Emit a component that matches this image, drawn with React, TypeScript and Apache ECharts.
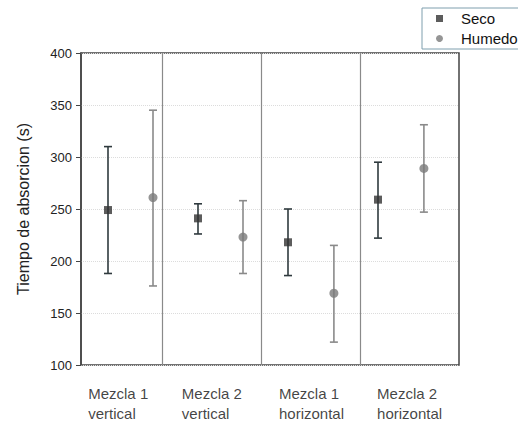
import React, { useEffect, useRef } from "react";
import * as echarts from "echarts";

const groupLabels = ["Mezcla 1\nvertical", "Mezcla 2\nvertical", "Mezcla 1\nhorizontal", "Mezcla 2\nhorizontal"];
const labelX = [0.08, 1.12, 2.2, 3.29];
const secoX = [0.3, 1.3, 2.3, 3.3];
const humedoX = [0.8, 1.8, 2.81, 3.81];
const dividerX = [0.9, 2.0, 3.1];
const secoMean = [249, 241, 218, 259];
const secoLow = [188, 226, 186, 222];
const secoHigh = [310, 255, 250, 295];
const humedoMean = [261, 223, 169, 289];
const humedoLow = [176, 188, 122, 247];
const humedoHigh = [345, 258, 215, 331];
const yTicks = { min: 100, max: 400, interval: 50 };

function errorRender(color: string, cap: number) {
  return (params: any, api: any) => {
    const x = api.value(0);
    const lo = api.coord([x, api.value(1)]);
    const hi = api.coord([x, api.value(2)]);
    const style = { stroke: color, lineWidth: 1.6 };
    return {
      type: "group",
      children: [
        { type: "line", shape: { x1: lo[0], y1: lo[1], x2: hi[0], y2: hi[1] }, style },
        { type: "line", shape: { x1: lo[0] - cap, y1: lo[1], x2: lo[0] + cap, y2: lo[1] }, style },
        { type: "line", shape: { x1: hi[0] - cap, y1: hi[1], x2: hi[0] + cap, y2: hi[1] }, style },
      ],
    };
  };
}

export default function App() {
  const ref = useRef<HTMLDivElement>(null);
  useEffect(() => {
    const chart = echarts.init(ref.current!, null, { renderer: "svg" });
    const font = "'Liberation Sans', Arial, sans-serif";
    chart.setOption({
      animation: false,
      textStyle: { fontFamily: font },
      grid: { left: 81, top: 53, width: 378, height: 312, show: true, borderColor: "#444", borderWidth: 1.5, backgroundColor: "#fff" },
      legend: {
        data: [
          { name: "Seco", icon: "rect" },
          { name: "Humedo", icon: "circle" },
        ],
        orient: "vertical",
        left: 422,
        top: 8,
        padding: [3, 80, 3, 14],
        itemGap: 5,
        itemWidth: 7,
        itemHeight: 7,
        borderColor: "#7f9fae",
        borderWidth: 1,
        backgroundColor: "#fff",
        textStyle: { fontSize: 15, color: "#111", fontFamily: font, padding: [0, 0, 0, 13] },
      },
      xAxis: {
        type: "value",
        min: 0,
        max: 4.2,
        axisLine: { show: false },
        axisTick: { show: false },
        axisLabel: { show: false },
        splitLine: { show: false },
      },
      yAxis: {
        type: "value",
        min: yTicks.min,
        max: yTicks.max,
        interval: yTicks.interval,
        name: "Tiempo de absorcion (s)",
        nameLocation: "middle",
        nameGap: 50,
        nameTextStyle: { fontSize: 16, color: "#222", fontFamily: font },
        axisLine: { show: true, lineStyle: { color: "#444", width: 1.5 } },
        axisTick: { show: true, length: 5, lineStyle: { color: "#444" } },
        axisLabel: { fontSize: 13, color: "#222", margin: 9, fontFamily: font },
        splitLine: { show: true, lineStyle: { color: "#dcdcdc", type: "dotted", width: 1 } },
      },
      series: [
        {
          name: "dividers",
          type: "scatter",
          data: [],
          silent: true,
          markLine: {
            silent: true,
            symbol: "none",
            label: { show: false },
            lineStyle: { color: "#8a8a8a", type: "solid", width: 1.2 },
            data: dividerX.map((x) => ({ xAxis: x })),
          },
        },
        {
          name: "Seco err",
          type: "custom",
          renderItem: errorRender("#2f3a3e", 4),
          data: secoX.map((x, i) => [x, secoLow[i], secoHigh[i]]),
          silent: true,
          z: 3,
        },
        {
          name: "Humedo err",
          type: "custom",
          renderItem: errorRender("#8a8a8a", 4),
          data: humedoX.map((x, i) => [x, humedoLow[i], humedoHigh[i]]),
          silent: true,
          z: 3,
        },
        {
          name: "Seco",
          type: "scatter",
          symbol: "rect",
          symbolSize: 8,
          itemStyle: { color: "#333" },
          data: secoX.map((x, i) => [x, secoMean[i]]),
          z: 4,
        },
        {
          name: "Humedo",
          type: "scatter",
          symbol: "circle",
          symbolSize: 9,
          itemStyle: { color: "#7a7a7a" },
          data: humedoX.map((x, i) => [x, humedoMean[i]]),
          z: 4,
        },
        {
          name: "labels",
          type: "scatter",
          symbolSize: 0,
          silent: true,
          clip: false,
          data: labelX.map((x, i) => ({
            value: [x, yTicks.min],
            label: { formatter: groupLabels[i] },
          })),
          label: {
            show: true,
            position: [0, 18],
            align: "left",
            verticalAlign: "top",
            fontSize: 15,
            lineHeight: 20,
            color: "#111",
            fontFamily: font,
          },
        },
      ],
    });
    return () => chart.dispose();
  }, []);
  return <div ref={ref} style={{ position: "fixed", left: 0, top: 0, width: 518, height: 421, background: "#fff" }} />;
}
